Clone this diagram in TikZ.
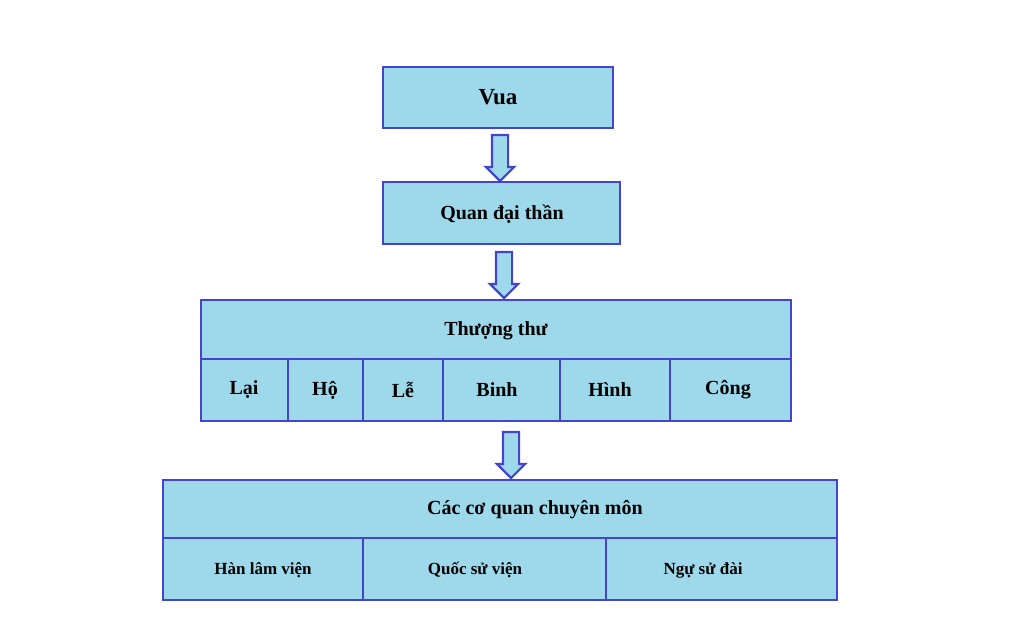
\documentclass[tikz,border=0pt]{standalone}
\usepackage{fontspec}
\setmainfont{Liberation Serif}
\usetikzlibrary{shapes.arrows}
\definecolor{fillc}{HTML}{9DD9EA}
\definecolor{linec}{HTML}{4444CC}
\begin{document}
\begin{tikzpicture}[x=1pt,y=-1pt,
  box/.style={draw=linec,fill=fillc,line width=2.8pt},
  lbl/.style={font=\bfseries\fontsize{20}{22}\selectfont,inner sep=0pt},
  sm/.style={font=\bfseries\fontsize{17}{19}\selectfont,inner sep=0pt},
  darrow/.style={single arrow,draw=linec,fill=fillc,line width=2.2pt,shape border rotate=270,
    minimum height=46pt,single arrow head extend=6pt,inner sep=7pt,anchor=center}]
\useasboundingbox (0,0) rectangle (1024,618);
% boxes
\draw[box] (383,67) rectangle (613,128);
\node[lbl,font=\bfseries\fontsize{23}{25}\selectfont] (vua) at (498,97) {Vua};
\draw[box] (383,182) rectangle (620,244);
\node[lbl] (qdt) at (502,214) {Quan đại thần};
\draw[box] (201,300) rectangle (791,421);
\draw[linec,line width=2.8pt] (201,359)--(791,359);
\foreach \x in {288,363,443,560,670} \draw[linec,line width=2.8pt] (\x,359)--(\x,421);
\node[lbl] (tt) at (496,331) {Thượng thư};
\node[lbl] (lai) at (244,390) {Lại};
\node[lbl] (ho) at (325,390) {Hộ};
\node[lbl] (le) at (403,390) {Lễ};
\node[lbl] (binh) at (497,390) {Binh};
\node[lbl] (hinh) at (610,390) {Hình};
\node[lbl] (cong) at (728,390) {Công};
\draw[box] (163,480) rectangle (837,600);
\draw[linec,line width=2.8pt] (163,538)--(837,538);
\foreach \x in {363,606} \draw[linec,line width=2.8pt] (\x,538)--(\x,600);
\node[lbl] (ccq) at (535,510) {Các cơ quan chuyên môn};
\node[sm] (hlv) at (263,570) {Hàn lâm viện};
\node[sm] (qsv) at (475,570) {Quốc sử viện};
\node[sm] (nsd) at (703,570) {Ngự sử đài};
% arrows
\node[darrow] (a1) at (500,154) {};
\node[darrow] (a2) at (504,271) {};
\node[darrow] (a3) at (511,451) {};
\end{tikzpicture}
\end{document}
